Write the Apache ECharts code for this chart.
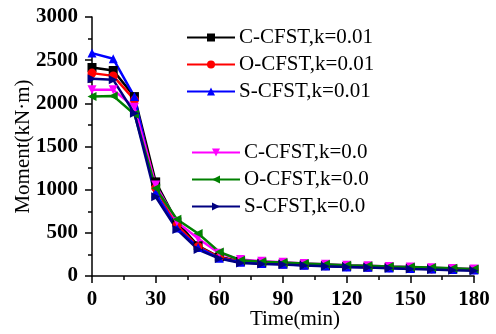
<!DOCTYPE html>
<html>
<head>
<meta charset="utf-8">
<script src="https://cdn.jsdelivr.net/npm/echarts@6/dist/echarts.min.js"></script>
<style>
  html, body { margin: 0; padding: 0; background: #fff; }
  #main { width: 496px; height: 334px; }
</style>
</head>
<body>
<div id="main"></div>
<script>
// time axis (min)
const times = [0, 10, 20, 30, 40, 50, 60, 70, 80, 90, 100, 110, 120, 130, 140, 150, 160, 170, 180];

// moment values (kN·m)
const cK001 = [2415, 2380, 2078, 1090, 625, 350, 220, 170, 150, 140, 130, 120, 110, 105, 100, 92, 85, 80, 75];
const oK001 = [2350, 2318, 2040, 1020, 585, 340, 215, 165, 148, 138, 128, 118, 108, 102, 96, 90, 82, 77, 72];
const sK001 = [2582, 2516, 2078, 960, 555, 330, 205, 160, 145, 135, 125, 115, 105, 100, 94, 88, 80, 75, 70];
const cK0 = [2156, 2156, 1955, 1053, 627, 434, 263, 190, 170, 158, 145, 135, 125, 118, 110, 103, 96, 88, 80];
const oK0 = [2078, 2086, 1874, 1015, 658, 492, 279, 182, 165, 155, 145, 135, 124, 118, 110, 105, 98, 90, 82];
const sK0 = [2284, 2272, 1885, 917, 539, 306, 202, 151, 140, 132, 122, 112, 105, 98, 90, 82, 75, 68, 60];

const names = ['C-CFST,k=0.01', 'O-CFST,k=0.01', 'S-CFST,k=0.01', 'C-CFST,k=0.0', 'O-CFST,k=0.0', 'S-CFST,k=0.0'];

const serif = '"Liberation Serif", "Times New Roman", serif';

const myChart = echarts.init(document.getElementById('main'));

const mk = (name, vals, color, symbol, rotate) => ({
    name: name,
    type: 'line',
    data: times.map((t, i) => [t, vals[i]]),
    symbol: symbol,
    symbolSize: 9,
    symbolRotate: rotate,
    itemStyle: { color: color },
    lineStyle: { width: 2.5, color: color }
});

const legendBase = {
    orient: 'vertical',
    padding: 0,
    itemWidth: 48,
    itemHeight: 10,
    itemGap: 6,
    symbolRotate: 'inherit',
    textStyle: { fontFamily: serif, fontSize: 21, color: '#000', padding: [0, 0, 0, -1] }
};

const option = {
    animation: false,
    textStyle: { fontFamily: serif },
    legend: [
        Object.assign({}, legendBase, { left: 186, top: 27, data: names.slice(0, 3) }),
        Object.assign({}, legendBase, { left: 191, top: 142, data: names.slice(3) })
    ],
    grid: { left: 92, right: 22, top: 17, bottom: 58, outerBoundsMode: 'none' },
    xAxis: {
        type: 'value',
        min: 0,
        max: 180,
        interval: 30,
        name: 'Time(min)',
        nameLocation: 'middle',
        nameGap: 33,
        nameMoveOverlap: false,
        nameTextStyle: { fontFamily: serif, fontSize: 21, color: '#000', padding: [0, 0, 0, 24] },
        axisLine: { lineStyle: { color: '#000', width: 1.5 } },
        axisTick: { length: 7, lineStyle: { color: '#000', width: 1.5 } },
        minorTick: { show: true, splitNumber: 2, length: 4, lineStyle: { color: '#000', width: 1.5 } },
        splitLine: { show: false },
        axisLabel: { fontFamily: serif, fontSize: 21, fontWeight: 'bold', color: '#000', margin: 13 }
    },
    yAxis: {
        type: 'value',
        min: 0,
        max: 3000,
        interval: 500,
        name: 'Moment(kN·m)',
        nameLocation: 'middle',
        nameGap: 58,
        nameMoveOverlap: false,
        nameTextStyle: { fontFamily: serif, fontSize: 21, color: '#000' },
        axisLine: { show: true, lineStyle: { color: '#000', width: 1.5 } },
        axisTick: { show: true, length: 7, lineStyle: { color: '#000', width: 1.5 } },
        minorTick: { show: true, splitNumber: 2, length: 4, lineStyle: { color: '#000', width: 1.5 } },
        splitLine: { show: false },
        axisLabel: { fontFamily: serif, fontSize: 21, fontWeight: 'bold', color: '#000', margin: 14, formatter: v => String(v) }
    },
    series: [
        mk(names[0], cK001, '#000000', 'rect', 0),
        mk(names[1], oK001, '#ff0000', 'circle', 0),
        mk(names[2], sK001, '#0000ff', 'triangle', 0),
        mk(names[3], cK0, '#ff00ff', 'triangle', 180),
        mk(names[4], oK0, '#008000', 'triangle', 90),
        mk(names[5], sK0, '#000080', 'triangle', -90)
    ]
};

myChart.setOption(option);
</script>
</body>
</html>
